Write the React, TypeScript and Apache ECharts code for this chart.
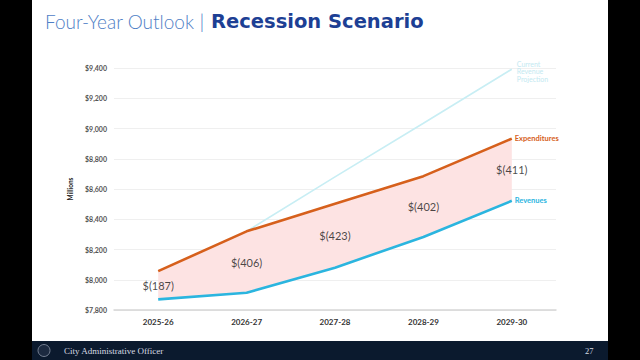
import React, { useEffect, useRef } from "react";
import * as echarts from "echarts";

const categories = ["2025-26", "2026-27", "2027-28", "2028-29", "2029-30"];
const expenditures = [8057, 8320, 8503, 8685, 8933];
const revenues = [7870, 7914, 8080, 8283, 8522];
const currentRevenue = [null, 8320, 8680, 9035, 9392];
const gapLabels = ["$(187)", "$(406)", "$(423)", "$(402)", "$(411)"];
const yMin = 7800;
const yMax = 9400;
const yStep = 200;

export default function App() {
  const ref = useRef<HTMLDivElement>(null);
  useEffect(() => {
    if (!ref.current) return;
    const chart = echarts.init(ref.current, null, { renderer: "svg" });
    const gap = expenditures.map((e, i) => e - revenues[i]);
    const mid = expenditures.map((e, i) => (e + revenues[i]) / 2);
    chart.setOption({
      animation: false,
      backgroundColor: "#ffffff",
      grid: { left: 114, right: 84, top: 68, bottom: 50 },
      xAxis: {
        type: "category",
        data: categories,
        boundaryGap: true,
        axisTick: { show: false },
        axisLine: { lineStyle: { color: "#d6d6d6", width: 1.5 } },
        axisLabel: { color: "#333", fontSize: 8, fontFamily: "Lato", fontWeight: "bold", margin: 8 },
      },
      yAxis: {
        type: "value",
        min: yMin,
        max: yMax,
        interval: yStep,
        name: "Millions",
        nameLocation: "middle",
        nameRotate: 90,
        nameGap: 36,
        nameTextStyle: { color: "#222", fontSize: 6.5, fontWeight: "bold", fontFamily: "Lato" },
        axisLine: { show: false },
        axisTick: { show: false },
        splitLine: { lineStyle: { color: "#efefef", width: 1 } },
        axisLabel: {
          color: "#555",
          fontSize: 7,
          fontFamily: "Lato",
          fontWeight: "bold",
          margin: 7,
          formatter: (v: number) => "$" + v.toLocaleString("en-US"),
        },
      },
      graphic: [
        { type: "rect", shape: { x: 0, y: 0, width: 32, height: 360 }, style: { fill: "#000" } },
        { type: "rect", shape: { x: 608, y: 0, width: 32, height: 360 }, style: { fill: "#000" } },
        { type: "rect", shape: { x: 32, y: 341, width: 576, height: 19 }, style: { fill: "#0b1a2e" } },
        { type: "circle", shape: { cx: 44, cy: 350.5, r: 6 }, style: { fill: "#1c2a40", stroke: "#8a94a6", lineWidth: 0.8 } },
        {
          type: "text",
          x: 64,
          y: 350.5,
          style: { text: "City Administrative Officer", fill: "#d8dce4", font: "9px 'Liberation Serif'", textVerticalAlign: "middle" },
        },
        {
          type: "text",
          x: 585,
          y: 350.5,
          style: { text: "27", fill: "#d8dce4", font: "8.5px 'Liberation Serif'", textVerticalAlign: "middle" },
        },
        {
          type: "text",
          x: 45,
          y: 21,
          style: {
            text: "{a|Four-Year Outlook }{s||}{b| Recession Scenario}",
            textVerticalAlign: "middle",
            rich: {
              a: { fontFamily: "Lato", fontWeight: 300, fontSize: 19, fill: "#4f80c6" },
              s: { fontFamily: "Lato", fontWeight: 300, fontSize: 20, fill: "#4f80c6" },
              b: { fontFamily: "DejaVu Sans", fontWeight: "bold", fontSize: 19.5, fill: "#1d3f94" },
            },
          },
        },
      ],
      series: [
        {
          type: "line",
          data: revenues,
          stack: "gap",
          symbol: "none",
          silent: true,
          lineStyle: { opacity: 0 },
          z: 1,
        },
        {
          type: "line",
          data: gap,
          stack: "gap",
          symbol: "none",
          silent: true,
          lineStyle: { opacity: 0 },
          areaStyle: { color: "#fde3e3", opacity: 1 },
          z: 1,
        },
        {
          name: "Current Revenue Projection",
          type: "line",
          data: currentRevenue,
          symbol: "none",
          lineStyle: { color: "#c8eef4", width: 1.6 },
          z: 2,
          endLabel: {
            show: true,
            formatter: "Current\nRevenue\nProjection",
            color: "#c3e9f1",
            fontSize: 7,
            fontFamily: "Lato",
            lineHeight: 7.5,
            distance: 5,
            offset: [0, 2],
          },
        },
        {
          name: "Expenditures",
          type: "line",
          data: expenditures,
          symbol: "none",
          lineStyle: { color: "#d6601c", width: 2.6 },
          z: 3,
          endLabel: {
            show: true,
            formatter: "Expenditures",
            color: "#d6601c",
            fontSize: 7.5,
            fontWeight: "bold",
            fontFamily: "Lato",
            distance: 3,
          },
        },
        {
          name: "Revenues",
          type: "line",
          data: revenues,
          symbol: "none",
          lineStyle: { color: "#2bb5df", width: 2.6 },
          z: 3,
          endLabel: {
            show: true,
            formatter: "Revenues",
            color: "#2bb5df",
            fontSize: 7.5,
            fontWeight: "bold",
            fontFamily: "Lato",
            distance: 3,
          },
        },
        {
          type: "scatter",
          data: mid,
          symbolSize: 0,
          silent: true,
          z: 4,
          label: {
            show: true,
            position: "inside",
            formatter: (p: any) => gapLabels[p.dataIndex],
            color: "#1a1a1a",
            fontSize: 11,
            fontFamily: "Lato",
          },
        },
      ],
    });
    return () => chart.dispose();
  }, []);
  return <div ref={ref} style={{ position: "fixed", left: 0, top: 0, width: 640, height: 360 }} />;
}
